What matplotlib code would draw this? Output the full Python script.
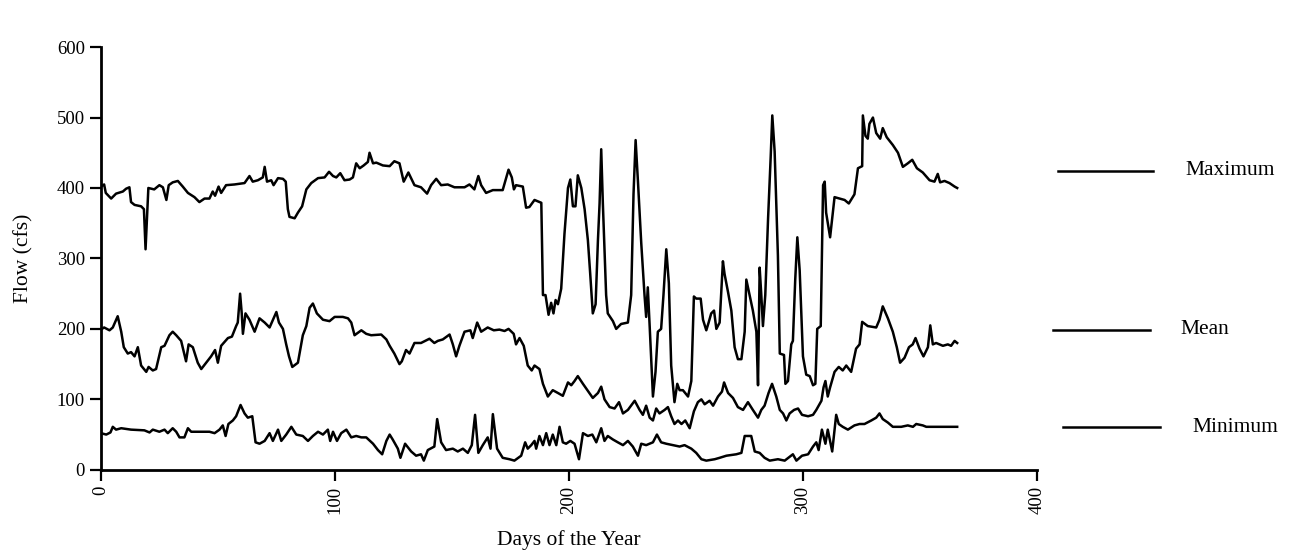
import numpy as np
import matplotlib
matplotlib.use("Agg")
import matplotlib.pyplot as plt
from matplotlib.lines import Line2D

## data: daily flow summary (cfs) by day of year

max_days = [0, 1.4, 2.1, 4.4, 6.5, 9.4, 10.8, 12.2, 12.9, 14.4, 17.2, 18.4, 19.1, 20.3, 22.8, 25, 26.5,
            28, 29, 30.7, 32.9, 35, 37.2, 40, 42.1, 44.3, 46.4, 47.8, 48.8, 50.3, 51.4, 53.5, 57.1,
            61.4, 63.5, 64.9, 67.1, 69.2, 70, 71, 72.8, 73.8, 75.7, 77.8, 79, 79.9, 80.6, 82.8, 84.2,
            86, 87.8, 89.9, 92.8, 95.6, 97.5, 99.2, 100.6, 102.3, 104.1, 106.3, 107.7, 109.1, 110.6,
            112.3, 114.1, 114.8, 116.3, 117.7, 120.5, 123.4, 125.4, 127.6, 129.4, 131.4, 134, 136.8,
            139.4, 141.1, 143.3, 145.4, 148.2, 151.1, 155.4, 157.5, 159.6, 161.3, 162.5, 164.6, 167.5,
            171.7, 174.2, 175.6, 176.5, 177.4, 180.3, 181.7, 183.1, 185.3, 188.2, 188.9, 190, 191.3,
            192.4, 193.4, 194.3, 195.3, 196.7, 198.1, 199.6, 200.6, 201.7, 202.8, 203.8, 205.3, 206.7,
            208.1, 209.1, 210.2, 211.4, 212.4, 213.1, 213.8, 214.5, 215.9, 216.6, 218.8, 220.2, 222.3,
            225.2, 226.6, 227.6, 228.5, 229.5, 230.9, 232.3, 233, 233.7, 234.5, 235.9, 237, 238, 239.4,
            240.4, 241.6, 242.7, 243.7, 245.1, 246.3, 247.3, 248.7, 250.9, 252.3, 253.4, 254.4, 256.3,
            257.3, 258.7, 259.7, 260.8, 262, 263, 264.4, 265.8, 266.5, 268, 269.4, 270.8, 272.2, 273.7,
            275.1, 275.8, 277.2, 278.6, 280.1, 280.8, 281.5, 282.2, 282.9, 283.9, 285.1, 286.2, 286.9,
            287.9, 289.3, 290.1, 291.9, 292.5, 293.6, 295, 295.7, 296.7, 297.6, 298.6, 300, 301.4,
            302.9, 304.3, 305.3, 306.1, 307.6, 308.6, 309.3, 309.9, 311.6, 313.5, 315.6, 317.8, 319.6,
            322, 323.5, 325.3, 325.6, 326.7, 327.7, 328.4, 329.9, 331.3, 333, 334.1, 335.8, 338.4,
            340.6, 342.7, 344.8, 346.7, 348.7, 351.2, 354.1, 356.2, 357.6, 358.6, 360.5, 362.6, 364.8,
            365.9]
max_flow = [402, 405, 393, 385, 392, 395, 399, 401, 380, 376, 374, 370, 313, 400, 398, 404, 401,
            383, 404, 408, 410, 402, 393, 387, 380, 385, 385, 395, 389, 402, 393, 404, 405,
            407, 417, 409, 411, 415, 430, 409, 411, 404, 414, 413, 409, 370, 359, 357, 365,
            374, 398, 407, 414, 415, 423, 417, 415, 421, 411, 412, 415, 435, 428,
            432, 437, 450, 435, 436, 432, 431, 438, 435, 409, 422, 404, 401,
            392, 404, 413, 404, 405, 401, 401, 405, 398, 417, 404, 393, 397,
            397, 426, 415, 398, 404, 402, 372, 373, 383, 379, 248, 248, 220,
            237, 222, 241, 235, 257, 335, 400, 412, 374, 374, 418, 400, 370,
            326, 278, 222, 235, 326, 378, 455, 378, 248, 222, 211, 200, 207,
            209, 248, 391, 468, 409, 322, 248, 217, 259, 204, 104, 139, 196,
            200, 248, 313, 265, 148, 96, 122, 113, 113, 104, 126, 246, 243, 243,
            213, 198, 209, 222, 226, 200, 209, 296, 278, 252, 226, 174, 157, 157,
            196, 270, 248, 226, 196, 120, 287, 248, 204, 248, 357, 443, 503,
            452, 304, 165, 163, 122, 126, 178, 183, 270, 330, 283, 161, 135,
            133, 120, 122, 200, 204, 404, 409, 365, 330, 387, 385, 383, 378,
            391, 428, 431, 503, 474, 470, 491, 500, 478, 470, 485, 472, 461,
            450, 430, 435, 440, 428, 422, 411, 409, 420, 408, 410, 407, 402,
            400]

mean_days = [0, 1.4, 3.7, 5.1, 7.2, 8.7, 9.8, 11.5, 12.9, 14.4, 15.8, 17.2, 19.4, 20.4, 22.2, 23.6,
             25.8, 27.2, 29.3, 30.7, 32.2, 34.3, 36.4, 37.5, 39.3, 41.4, 42.9, 45, 47.1, 48.8, 50,
             51.4, 54.3, 56, 57.8, 58.5, 59.5, 60.2, 60.7, 61.8, 63.5, 65.7, 67.8, 70, 72.1, 75, 76.1,
             77.8, 79.2, 80.4, 81.8, 84.2, 86.3, 87.8, 89.2, 90.6, 92.3, 94.9, 97.7, 99.9, 103.4, 105.6,
             107, 108.4, 111.3, 113.4, 115.5, 119.8, 122, 123.4, 125.4, 127.6, 128.6, 130.4, 131.9,
             134, 136.8, 140.4, 142.5, 144, 146.1, 149, 150.4, 151.8, 153.2, 155.4, 157.9, 158.9,
             160.8, 162.5, 165.3, 167.9, 170.3, 172.5, 174.2, 176.4, 177.4, 178.9, 180.7, 182.4,
             184.1, 185.3, 187.4, 188.9, 191, 193.1, 195.3, 197.4, 199.6, 201, 202.4, 203.8, 206,
             208.1, 210.2, 212.4, 213.8, 215.2, 217.4, 219.5, 221.4, 223.1, 225.2, 228.1, 230.2,
             231.6, 233, 234.5, 235.9, 237.3, 238.7, 240.9, 242.3, 243.7, 245.1, 246.6, 248.1, 249.7,
             251.6, 253.4, 255.1, 256.6, 258, 260.1, 261.6, 263.7, 265.4, 266.3, 268, 270.1, 272.2,
             274.4, 276.5, 278.6, 280.8, 282.2, 283.6, 285.3, 286.8, 288.6, 290.1, 291.5, 292.9,
             294.3, 296.2, 297.9, 299.6, 302.2, 304.3, 305.7, 307.9, 308.8, 309.6, 310.6, 311.6,
             313.5, 315.3, 317, 318.5, 320.6, 322.7, 324.2, 325.3, 327.7, 331.3, 332.7, 334.1, 336.3,
             338.4, 340.1, 341.5, 343.4, 345.3, 346.9, 348.1, 349.8, 351.5, 353.4, 354.4, 355.5,
             356.9, 359.8, 361.9, 363.3, 364.8, 365.9]
mean_flow = [199, 202, 198, 202, 218, 196, 174, 165, 167, 161, 174, 148, 139, 146, 141, 143,
             174, 176, 191, 196, 191, 183, 154, 178, 174, 152, 143, 152, 161, 170, 152,
             176, 187, 189, 204, 209, 250, 222, 193, 222, 213, 196, 215, 209, 202, 224, 209,
             200, 178, 161, 146, 152, 191, 204, 230, 236, 222, 213, 211, 217, 217, 215,
             209, 191, 198, 193, 191, 192, 185, 176, 165, 150, 154, 170, 165,
             180, 180, 186, 180, 183, 185, 192, 178, 161, 176, 196, 198, 187,
             209, 196, 202, 198, 199, 197, 200, 193, 178, 187, 176, 148,
             141, 148, 143, 122, 104, 113, 109, 105, 124, 120, 126, 133, 122,
             112, 102, 109, 118, 100, 89, 87, 96, 80, 85, 98, 85,
             78, 91, 74, 70, 87, 80, 85, 89, 76, 65, 70, 65, 70,
             59, 83, 96, 100, 93, 98, 91, 104, 111, 124, 109, 102, 89,
             85, 96, 85, 74, 85, 91, 109, 122, 104, 85, 80, 70,
             80, 85, 87, 78, 76, 78, 85, 98, 117, 126, 104, 117,
             139, 146, 141, 148, 139, 172, 178, 210, 204, 202, 213, 232, 215,
             196, 174, 152, 159, 174, 178, 187, 172, 161, 174, 205, 178,
             180, 176, 178, 176, 183, 180]

min_days = [0, 2.3, 4.1, 5.1, 6.5, 8.7, 12.9, 18.6, 20.8, 22.2, 25, 27.2, 28.6, 30.7, 32.2, 33.6,
            35.7, 37.2, 38.6, 42.9, 46.4, 48.6, 50.7, 52.1, 53.3, 54.5, 56.4, 57.8, 59.7, 61.4, 62.8,
            64.7, 66.1, 67.8, 70, 72.1, 73.5, 75.7, 77.1, 79.2, 81.4, 83.5, 86.3, 88.5, 90.6, 92.8,
            94.9, 97, 98, 99.2, 100.9, 102.7, 104.9, 107, 109.1, 111.3, 113.4, 116.3, 118.4, 120.2,
            122, 123.4, 124.7, 126.9, 128, 130, 132.6, 134.7, 136.8, 138, 139.7, 142.5, 143.7, 145.4,
            147.5, 150.4, 152.5, 154.7, 156.8, 158.5, 159.9, 161.3, 163.2, 165.3, 166.5, 167.5, 169.3,
            171.7, 174.6, 176.7, 179.6, 181.3, 182.4, 183.9, 185.3, 186, 187.4, 188.9, 190.3, 191.7,
            193.1, 194.6, 196, 197.4, 198.8, 200.6, 202.4, 204.3, 206, 208.1, 210, 211.7, 213.8,
            215.2, 216.6, 218.8, 220.9, 223.1, 225.2, 227.3, 229.5, 230.9, 233, 235.9, 237.6, 239.4,
            241.6, 244.4, 247.3, 249.4, 252.3, 254.4, 256.6, 258.7, 262.3, 264.4, 267.3, 271.5,
            273.7, 275.1, 277.9, 279.4, 281.5, 283.6, 285.8, 289.3, 292.2, 295.7, 297.2, 299.6,
            302.2, 304.3, 305.7, 306.7, 308.1, 309.6, 310.6, 312.5, 314.2, 315.3, 317, 319.2, 322,
            324.2, 326.3, 329.2, 331.3, 332.7, 334.1, 336.3, 338.4, 342, 344.8, 347, 348.4, 351.2,
            352.7, 365.9]
min_flow = [52, 50, 53, 61, 57, 59, 57, 56, 53, 57, 54, 57, 52, 59, 54, 46,
            46, 59, 54, 54, 54, 52, 57, 63, 48, 65, 70, 76, 92, 80, 74,
            76, 39, 37, 41, 52, 41, 57, 41, 50, 61, 50, 48, 41, 48, 54,
            50, 57, 41, 54, 41, 52, 57, 46, 48, 46, 46, 37, 28, 22,
            41, 50, 43, 30, 17, 37, 26, 20, 22, 13, 28, 33, 72, 39,
            28, 30, 26, 30, 24, 35, 78, 24, 35, 46, 30, 79, 30,
            17, 15, 13, 20, 39, 30, 35, 41, 30, 48, 35, 52, 35,
            50, 35, 61, 39, 37, 41, 37, 15, 52, 48, 50, 39, 59,
            41, 48, 43, 39, 35, 41, 33, 20, 37, 35, 39, 50, 39,
            37, 35, 33, 35, 30, 24, 15, 13, 15, 17, 20, 22,
            24, 48, 48, 26, 24, 17, 13, 15, 13, 22, 13, 20,
            22, 33, 39, 28, 57, 37, 57, 26, 78, 65, 61, 57, 63,
            65, 65, 70, 74, 80, 72, 67, 61, 61, 63, 61, 65, 63,
            61, 61]

series = [("Maximum", max_days, max_flow),
          ("Mean", mean_days, mean_flow),
          ("Minimum", min_days, min_flow)]

## figure

plt.rcParams['font.family'] = ['Liberation Serif', 'DejaVu Serif']
fig = plt.figure(figsize=(12.93, 5.54), dpi=100)
ax = fig.add_axes([0.078, 0.152, 0.724, 0.763])

for name, d, f in series:
    ax.plot(d, f, color='black', lw=1.8, solid_joinstyle='round')

ax.set_xlim(0, 400)
ax.set_ylim(0, 600)
ax.set_xticks([0, 100, 200, 300, 400])
ax.set_yticks([0, 100, 200, 300, 400, 500, 600])
ax.tick_params(axis='both', direction='out', length=8, width=1.6, labelsize=13.5, colors='black')
ax.tick_params(axis='x', labelrotation=90)
for s in ['top', 'right']:
    ax.spines[s].set_visible(False)
for s in ['left', 'bottom']:
    ax.spines[s].set_linewidth(2)
ax.set_xlabel('Days of the Year', fontsize=15.5, labelpad=12)
ax.set_ylabel('Flow (cfs)', fontsize=15.5, labelpad=17)

# key drawn to the right of the axes
key = [("Maximum", 1058, 1153, 171, 1185),
       ("Mean", 1053, 1150, 330, 1180),
       ("Minimum", 1063, 1160, 427, 1192)]
W, H = 1293, 554
for name, x0, x1, y, tx in key:
    fig.add_artist(Line2D([x0 / W, x1 / W], [1 - y / H, 1 - y / H], color='black', lw=1.8,
                          transform=fig.transFigure))
    fig.text(tx / W, 1 - y / H, name, fontsize=15.5, va='center', ha='left')

fig.savefig('out.png', dpi=100)
